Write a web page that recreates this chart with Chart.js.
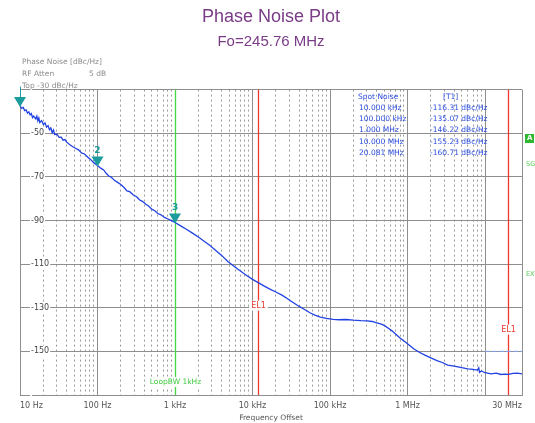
<!DOCTYPE html>
<html>
<head>
<meta charset="utf-8">
<script src="https://cdn.jsdelivr.net/npm/chart.js@4.4.1/dist/chart.umd.min.js"></script>
<style>
  html, body { margin: 0; padding: 0; background: #fff; }
  #wrap { width: 535px; height: 423px; }
</style>
</head>
<body>
<div id="wrap"><canvas id="plot" width="535" height="423"></canvas></div>
<script>
// trace (offset in Hz, dBc/Hz)
const freqHz = [
  10, 10.5, 11, 11.5, 12, 12.5, 13, 13.5, 14, 14.5, 15, 16, 16.5, 17, 17.5, 18, 19, 20, 21, 22, 23, 24, 25, 26, 27, 28, 30,
  32, 34, 36, 38, 40, 44, 48, 52, 57, 62, 68, 75, 82, 90,
  100, 110, 120, 130, 140, 150, 165, 180, 200, 220, 240, 260, 290, 320, 350, 380, 420, 460, 500, 550, 600, 660, 730, 800, 900,
  1000, 1200, 1400, 1700, 2000, 2400, 2800, 3300, 4000, 4800, 5600, 6500, 7500, 8500,
  10000, 12000, 14000, 17000, 20000, 24000, 28000, 33000, 40000, 47000, 55000, 65000, 75000, 90000,
  110000, 130000, 160000, 200000, 250000, 300000, 350000, 400000, 450000, 500000, 560000, 630000, 700000, 800000, 900000,
  1000000, 1200000, 1400000, 1700000, 2000000, 2400000, 2800000, 3300000, 4000000, 5000000, 6000000, 7000000, 8000000, 8300000, 8500000, 9000000,
  10000000, 12000000, 14000000, 16000000, 18000000, 20000000, 23000000, 26000000, 30000000
];
const noiseDbc = [
  -37.5, -38.6, -38.2, -39.6, -39.3, -40.8, -40.2, -41.6, -41.0, -42.8, -42.1, -43.4, -42.2, -44.3, -43.0, -45.1, -44.2, -46.0, -45.3, -47.2, -46.5, -48.4, -47.6, -49.8, -48.5, -50.6, -50.4,
  -51.9, -51.8, -53.2, -52.9, -54.1, -55.3, -56.2, -56.9, -57.6, -59.0, -59.5, -61.0, -62.1, -63.6,
  -64.8, -66.0, -66.8, -68.5, -69.6, -70.1, -71.6, -72.4, -73.5, -74.9, -76.4, -76.8, -78.3, -79.1, -80.6, -81.2, -82.6, -83.5, -84.8, -85.5, -86.8, -87.4, -88.6, -89.2, -90.1,
  -90.9, -92.6, -94.0, -95.9, -97.6, -99.6, -101.4, -103.5, -106.0, -108.8, -110.6, -112.4, -114.0, -115.3,
  -117.0, -118.6, -120.0, -121.6, -122.8, -124.2, -125.8, -127.5, -129.4, -130.8, -132.3, -133.5, -134.3, -134.9,
  -135.3, -135.5, -135.4, -135.7, -135.9, -136.0, -136.3, -136.9, -137.4, -138.1, -139.3, -140.6, -142.0, -143.9, -145.2,
  -146.5, -148.8, -150.3, -151.8, -153.0, -154.2, -155.1, -156.3, -156.8, -157.5, -158.0, -158.3, -158.6, -157.6, -159.6, -159.0,
  -159.8, -160.3, -160.0, -160.6, -160.4, -160.5, -160.1, -160.0, -160.3
];

// limit line at the right end
const limitFreq = [10000000, 30000000];
const limitDbc = [-150, -150];

// axes
const xMajorTicks = [10, 100, 1000, 10000, 100000, 1000000, 10000000, 30000000];
const xMajorLabels = ['10 Hz', '100 Hz', '1 kHz', '10 kHz', '100 kHz', '1 MHz', '', '30 MHz'];
const yTicks = [-170, -150, -130, -110, -90, -70, -50, -30];

// markers, integration limits, loop bandwidth
const markerFreq = [10, 100, 1000];
const markerName = ['1', '2', '3'];
const elFreq = [12000, 20000000];
const loopBwFreq = 1000;

// spot noise table
const spotFreqText = ['10.000 kHz', '100.000 kHz', '1.000 MHz', '10.000 MHz', '20.081 MHz'];
const spotValText = ['-116.31 dBc/Hz', '-135.07 dBc/Hz', '-146.22 dBc/Hz', '-155.23 dBc/Hz', '-160.71 dBc/Hz'];

const xMinorTicks = [];
for (let d = 10; d < 30000000; d *= 10) {
  for (let k = 2; k <= 9; k++) { if (k * d < 30000000) xMinorTicks.push(k * d); }
}

const SANS = '"DejaVu Sans", sans-serif';
const TITLE_FONT = '"Liberation Sans", Arial, sans-serif';
const PURPLE = '#7a3c86';
const TEAL = '#1c9c9c';

function traceAt(f){
  const i = freqHz.indexOf(f);
  return i >= 0 ? noiseDbc[i] : null;
}
// same pixel snapping as the grid lines
function snap(px){ return Math.round(px - 0.5) + 0.5; }

const overlay = {
  id: 'overlay',
  beforeDatasetsDraw(chart){
    const { ctx, chartArea: a, scales: { x, y } } = chart;
    ctx.save();
    ctx.textAlign = 'center';
    ctx.textBaseline = 'middle';

    // loop bandwidth line
    const gx = snap(x.getPixelForValue(loopBwFreq));
    ctx.strokeStyle = '#45d645';
    ctx.lineWidth = 1.3;
    ctx.beginPath(); ctx.moveTo(gx, a.top); ctx.lineTo(gx, a.bottom); ctx.stroke();
    const lbw = 'LoopBW 1kHz';
    ctx.font = '7.5px ' + SANS;
    let w = ctx.measureText(lbw).width;
    const ly = y.getPixelForValue(-164);
    ctx.fillStyle = '#fff';
    ctx.fillRect(gx - w / 2 - 2, ly - 5, w + 4, 10);
    ctx.fillStyle = '#3ec83e';
    ctx.fillText(lbw, gx, ly);

    // EL1 integration limits
    const elLabelDb = [-129, -140];
    elFreq.forEach((f, i) => {
      const px = snap(x.getPixelForValue(f));
      ctx.strokeStyle = '#ea3a2f';
      ctx.lineWidth = 1.3;
      ctx.beginPath(); ctx.moveTo(px, a.top); ctx.lineTo(px, a.bottom); ctx.stroke();
      ctx.font = '8px ' + SANS;
      w = ctx.measureText('EL1').width;
      const py = y.getPixelForValue(elLabelDb[i]);
      ctx.fillStyle = '#fff';
      ctx.fillRect(px - w / 2 - 2, py - 5, w + 4, 10);
      ctx.fillStyle = '#e8392e';
      ctx.fillText('EL1', px, py);
    });
    ctx.restore();
  },
  afterDatasetsDraw(chart){
    const { ctx, chartArea: a, scales: { x, y } } = chart;
    ctx.save();
    // markers: down triangles, tip on the trace
    markerFreq.forEach((f, i) => {
      const px = x.getPixelForValue(f);
      const py = y.getPixelForValue(traceAt(f));
      ctx.fillStyle = TEAL;
      ctx.beginPath();
      ctx.moveTo(px, py + 1);
      ctx.lineTo(px - 6, py - 9);
      ctx.lineTo(px + 6, py - 9);
      ctx.closePath();
      ctx.fill();
      if (i === 0) {
        // number of the first marker is hidden under the header, only its stem shows
        ctx.strokeStyle = TEAL;
        ctx.lineWidth = 1;
        ctx.beginPath(); ctx.moveTo(snap(px), a.top - 3); ctx.lineTo(snap(px), py - 9); ctx.stroke();
        return;
      }
      ctx.font = 'bold 9px ' + SANS;
      ctx.textAlign = 'center';
      ctx.textBaseline = 'middle';
      ctx.fillText(markerName[i], px, py - 15);
    });

    // spot noise table
    ctx.fillStyle = '#2b4de0';
    ctx.font = '7.5px ' + SANS;
    ctx.textAlign = 'left';
    ctx.textBaseline = 'middle';
    const rowY = [108, 119, 130, 142, 153];
    ctx.fillText('Spot Noise', 358, 97);
    ctx.fillText('[T1]', 443, 97);
    spotFreqText.forEach((t, i) => {
      ctx.fillText(t, 359, rowY[i]);
      ctx.fillText(spotValText[i], 430, rowY[i]);
    });
    ctx.restore();
  },
  afterDraw(chart){
    const { ctx } = chart;
    ctx.save();
    // instrument header
    ctx.fillStyle = '#8c8c8c';
    ctx.font = '7.5px ' + SANS;
    ctx.textAlign = 'left';
    ctx.textBaseline = 'middle';
    ctx.fillText('Phase Noise [dBc/Hz]', 22, 62);
    ctx.fillText('RF Atten', 22, 74);
    ctx.fillText('5 dB', 89, 74);
    ctx.fillText('Top -30 dBc/Hz', 22, 86);

    // right-hand annotations (cut by the window edge)
    ctx.fillStyle = '#30b830';
    ctx.fillRect(525, 134, 9, 9);
    ctx.fillStyle = '#fff';
    ctx.font = 'bold 7px ' + SANS;
    ctx.fillText('A', 527, 138.5);
    ctx.fillStyle = '#5ccf5c';
    ctx.font = '6.5px ' + SANS;
    ctx.fillText('SGL', 526, 164);
    ctx.fillText('EXT', 526, 274);
    ctx.restore();
  }
};

new Chart(document.getElementById('plot'), {
  type: 'line',
  data: {
    datasets: [
      {
        data: freqHz.map((f, i) => ({ x: f, y: noiseDbc[i] })),
        borderColor: '#2142e2',
        borderWidth: 1.3,
        pointRadius: 0,
        tension: 0
      },
      {
        data: limitFreq.map((f, i) => ({ x: f, y: limitDbc[i] })),
        borderColor: '#86a2ee',
        borderWidth: 1,
        borderDash: [5, 2],
        pointRadius: 0
      }
    ]
  },
  options: {
    responsive: false,
    animation: false,
    layout: { padding: { left: 20, right: 13, top: 0, bottom: 0 } },
    plugins: {
      legend: { display: false },
      tooltip: { enabled: false },
      title: {
        display: true, text: 'Phase Noise Plot', color: PURPLE,
        font: { family: TITLE_FONT, size: 18, weight: 'normal' },
        padding: { top: 6, bottom: 3 }
      },
      subtitle: {
        display: true, text: 'Fo=245.76 MHz', color: PURPLE,
        font: { family: TITLE_FONT, size: 15, weight: 'normal' },
        padding: { top: 2, bottom: 39 }
      }
    },
    scales: {
      x: {
        type: 'logarithmic', position: 'bottom', min: 10, max: 30000000,
        afterBuildTicks: s => { s.ticks = xMajorTicks.map(v => ({ value: v })); },
        afterFit: s => { s.height = 28; },
        ticks: {
          autoSkip: false, maxRotation: 0, align: 'inner', padding: 6,
          color: '#555', font: { family: SANS, size: 8 },
          callback: (v, i) => xMajorLabels[i]
        },
        grid: { color: '#8e8e8e', drawTicks: false },
        border: { color: '#8e8e8e' },
        title: {
          display: true, text: 'Frequency Offset', color: '#555',
          font: { family: SANS, size: 7.5 }, padding: { top: 2, bottom: 0 }
        }
      },
      xMinor: {
        type: 'logarithmic', position: 'bottom', min: 10, max: 30000000,
        afterBuildTicks: s => { s.ticks = xMinorTicks.map(v => ({ value: v })); },
        afterFit: s => { s.height = 0; },
        ticks: { display: false },
        grid: { color: '#9a9a9a', drawTicks: false },
        border: { display: false, dash: [2, 3] }
      },
      y: {
        min: -170, max: -30,
        afterBuildTicks: s => { s.ticks = yTicks.map(v => ({ value: v })); },
        afterFit: s => { s.width = 0; },
        ticks: {
          mirror: true, padding: 11,
          showLabelBackdrop: true, backdropColor: '#fff', backdropPadding: 1,
          color: '#444', font: { family: SANS, size: 8 },
          callback: v => (v === -30 || v === -170) ? '' : String(v)
        },
        grid: { color: '#8e8e8e', drawTicks: false },
        border: { color: '#8e8e8e' }
      }
    }
  },
  plugins: [overlay]
});
</script>
</body>
</html>
